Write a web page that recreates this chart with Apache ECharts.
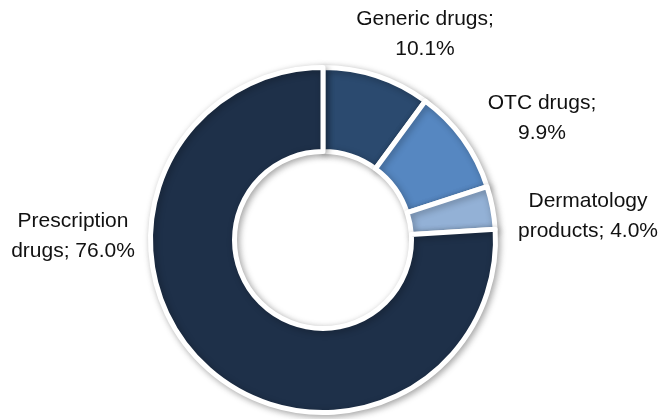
<!DOCTYPE html>
<html>
<head>
<meta charset="utf-8">
<script src="https://cdn.jsdelivr.net/npm/echarts@6/dist/echarts.min.js"></script>
<style>
html,body{margin:0;padding:0;background:#fff;}
#chart{width:663px;height:419px;}
</style>
</head>
<body>
<div id="chart"></div>
<script>
const categories = ['Generic drugs', 'OTC drugs', 'Dermatology products', 'Prescription drugs'];
const shares = [10.1, 9.9, 4.0, 76.0];
const colors = ['#2B4A6F', '#5687C1', '#93B1D6', '#1E3049'];
// label line-break style: 'end' => "Name;\nvalue%", 'word' => break after first word
const breakStyle = ['end', 'end', 'word', 'word'];
const labelAnchors = [[425, 34], [542, 118], [588, 216], [73, 236]];

function labelText(i) {
  const name = categories[i];
  const v = shares[i].toFixed(1) + '%';
  if (breakStyle[i] === 'end') return name + ';\n' + v;
  const k = name.indexOf(' ');
  return name.slice(0, k) + '\n' + name.slice(k + 1) + '; ' + v;
}

const chart = echarts.init(document.getElementById('chart'), null, {renderer: 'canvas'});
chart.setOption({
  animation: false,
  backgroundColor: '#ffffff',
  series: [{
    type: 'pie',
    center: [323, 240],
    radius: [88.5, 172.5],
    startAngle: 90,
    clockwise: true,
    avoidLabelOverlap: false,
    itemStyle: {
      borderColor: '#ffffff',
      borderWidth: 5,
      shadowBlur: 7,
      shadowOffsetX: 2,
      shadowOffsetY: 2,
      shadowColor: 'rgba(0,0,0,0.3)'
    },
    label: {
      show: true,
      position: 'outside',
      formatter: p => labelText(p.dataIndex),
      fontFamily: '"Liberation Sans", Arial, sans-serif',
      fontSize: 21,
      lineHeight: 30,
      color: '#111111',
      align: 'center'
    },
    labelLine: {show: false},
    labelLayout: p => ({
      x: labelAnchors[p.dataIndex][0],
      y: labelAnchors[p.dataIndex][1],
      align: 'center',
      verticalAlign: 'middle'
    }),
    emphasis: {disabled: true},
    data: categories.map((c, i) => ({
      name: c,
      value: shares[i],
      itemStyle: {color: colors[i]}
    }))
  }]
});
</script>
</body>
</html>
